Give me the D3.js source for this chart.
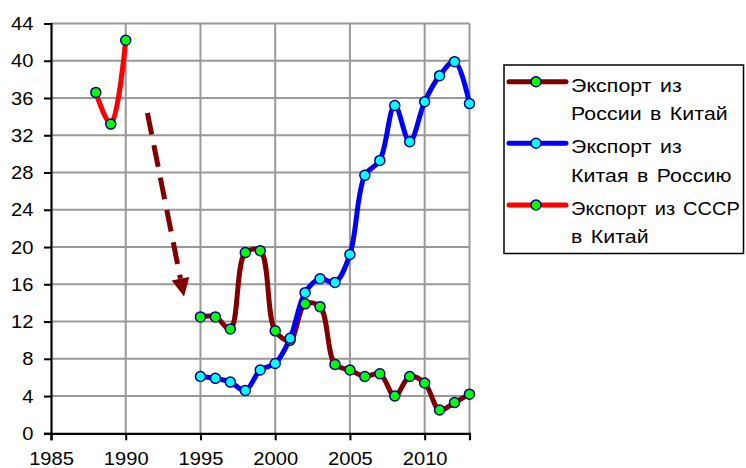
<!DOCTYPE html>
<html><head><meta charset="utf-8">
<script src="https://cdn.jsdelivr.net/npm/d3@7"></script>
<style>html,body{margin:0;padding:0;background:#fff;}svg{display:block;}</style>
</head><body>
<svg id="c" width="746" height="468"></svg>
<script>
const yearsUSSR = [1988, 1989, 1990];
const valuesUSSR = [36.6, 33.2, 42.2];
const yearsRF = [1995,1996,1997,1998,1999,2000,2001,2002,2003,2004,2005,2006,2007,2008,2009,2010,2011,2012,2013];
const valuesRussiaToChina = [12.5,12.5,11.2,19.4,19.6,11.0,10.0,13.9,13.6,7.4,6.8,6.1,6.4,4.0,6.1,5.4,2.5,3.3,4.2];
const valuesChinaToRussia = [6.1,5.9,5.5,4.6,6.8,7.5,10.2,15.1,16.6,16.2,19.2,27.7,29.3,35.2,31.3,35.6,38.4,39.9,35.4];
const xTicks = [1985,1990,1995,2000,2005,2010];
const yTicks = [0,4,8,12,16,20,24,28,32,36,40,44];
const seriesNames = [["Экспорт из","России в Китай"],["Экспорт из","Китая в Россию"],["Экспорт из СССР","в Китай"]];
const arrowPoints = [[1991.45, 34.4],[1993.9, 14.7]];

const svg = d3.select("#c");
const font = "'Liberation Sans', Arial, sans-serif";
const x = d3.scaleLinear().domain([1985, 2013]).range([51, 469.5]);
const y = d3.scaleLinear().domain([0, 44]).range([433.3, 23.5]);

// grid
const g = svg.append("g");
g.selectAll(".gy").data(yTicks.filter(d=>d>0)).join("line")
  .attr("x1", x(1985)).attr("x2", x(2013)).attr("y1", d=>y(d)).attr("y2", d=>y(d))
  .attr("stroke", "#999").attr("stroke-width", 2);
g.selectAll(".gx").data(xTicks.filter(d=>d>1985).concat([2013])).join("line")
  .attr("x1", d=>x(d)).attr("x2", d=>x(d)).attr("y1", y(0)).attr("y2", y(44))
  .attr("stroke", "#999").attr("stroke-width", 2);

// axes
const yAxis = d3.axisLeft(y).tickValues(yTicks).tickSize(7).tickFormat(d3.format("d"));
const xAxis = d3.axisBottom(x).tickValues(xTicks).tickSize(7).tickFormat(d3.format("d"));
const ya = svg.append("g").attr("transform", `translate(${x(1985)},0)`).call(yAxis);
const xa = svg.append("g").attr("transform", `translate(0,${y(0)})`).call(xAxis);
[ya, xa].forEach(a => {
  a.select(".domain").attr("stroke", "#000").attr("stroke-width", 2.2);
  a.selectAll(".tick line").attr("stroke", "#000").attr("stroke-width", 2);
  a.selectAll(".tick text").attr("font-family", font).attr("font-size", 17.5).attr("fill", "#000")
    .attr("x", 0).attr("y", 0);
});
ya.selectAll(".tick text").attr("dy", "0.35em").attr("transform", "translate(-17.5,0) scale(1.15,1)");
xa.selectAll(".tick text").attr("dy", 0).attr("transform", "translate(0,32) scale(1.15,1)");

// arrow (annotation)
const [p0, p1] = arrowPoints.map(p => [x(p[0]), y(p[1])]);
const ang = Math.atan2(p1[1]-p0[1], p1[0]-p0[0]);
const headLen = 18, headW = 9;
const base = [p1[0]-headLen*Math.cos(ang), p1[1]-headLen*Math.sin(ang)];
svg.append("line").attr("x1", p0[0]).attr("y1", p0[1]).attr("x2", base[0]).attr("y2", base[1])
  .attr("stroke", "#800000").attr("stroke-width", 5).attr("stroke-dasharray", "22,11");
svg.append("path").attr("fill", "#800000")
  .attr("d", `M${p1[0]},${p1[1]} L${base[0]+headW*Math.sin(ang)},${base[1]-headW*Math.cos(ang)} L${base[0]-headW*Math.sin(ang)},${base[1]+headW*Math.cos(ang)} Z`);

// lines
const line = d3.line().x(d=>x(d[0])).y(d=>y(d[1])).curve(d3.curveCatmullRom.alpha(0.5));
const series = [
  {data: d3.zip(yearsRF, valuesRussiaToChina), stroke: "#800000", fill: "#00ff00"},
  {data: d3.zip(yearsRF, valuesChinaToRussia), stroke: "#0000ff", fill: "#00ffff"},
  {data: d3.zip(yearsUSSR, valuesUSSR), stroke: "#ff0000", fill: "#00ff00"}
];
series.forEach(s => {
  svg.append("path").datum(s.data).attr("d", line).attr("fill", "none")
    .attr("stroke", s.stroke).attr("stroke-width", 5).attr("stroke-linejoin", "round").attr("stroke-linecap", "round");
});
series.forEach(s => {
  svg.append("g").selectAll("circle").data(s.data).join("circle")
    .attr("cx", d=>x(d[0])).attr("cy", d=>y(d[1])).attr("r", 5)
    .attr("fill", s.fill).attr("stroke", "#000080").attr("stroke-width", 1.5);
});

// legend
const lg = svg.append("g");
lg.append("rect").attr("x", 504).attr("y", 65).attr("width", 239.5).attr("height", 188.5)
  .attr("fill", "#fff").attr("stroke", "#000").attr("stroke-width", 1.5);
const entryY = [81.7, 143.3, 205];
series.forEach((s, i) => {
  const yy = entryY[i];
  lg.append("line").attr("x1", 509).attr("x2", 566).attr("y1", yy).attr("y2", yy)
    .attr("stroke", s.stroke).attr("stroke-width", 5).attr("stroke-linecap", "round");
  lg.append("circle").attr("cx", 536).attr("cy", yy).attr("r", 5)
    .attr("fill", s.fill).attr("stroke", "#000080").attr("stroke-width", 1.5);
  seriesNames[i].forEach((t, j) => {
    const sx = t.length > 14 ? 1.08 : 1.15;
    lg.append("text").attr("x", 0).attr("y", 0)
      .attr("transform", `translate(571,${yy + 10 + j*28.3}) scale(${sx},1)`).text(t)
      .attr("font-family", font).attr("font-size", 18.5).attr("fill", "#000")
      .attr("letter-spacing", 0.1).attr("word-spacing", 2);
  });
});
</script>
</body></html>
